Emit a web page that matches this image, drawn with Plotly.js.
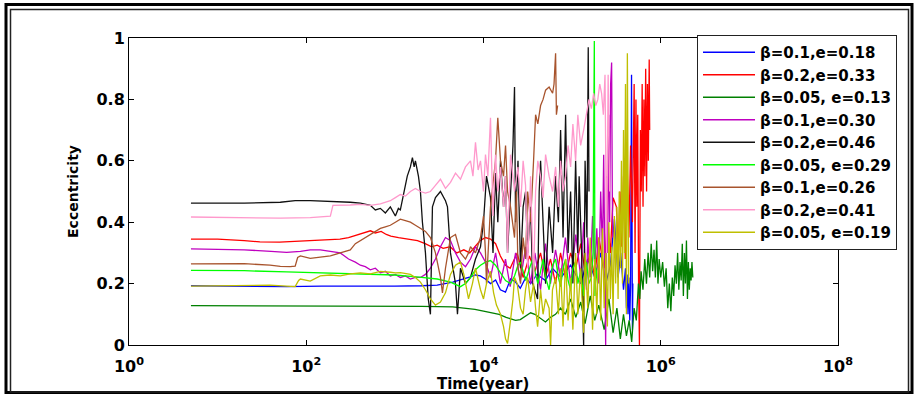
<!DOCTYPE html>
<html>
<head>
<meta charset="utf-8">
<script src="https://cdn.plot.ly/plotly-3.0.1.min.js"></script>
<style>html,body{margin:0;padding:0;background:#fff;}#chart{width:915px;height:394px;}</style>
</head>
<body>
<div id="chart"></div>
<script>
// ---- data (time in years, eccentricity) ----
const seriesNames = ['β=0.1,e=0.18','β=0.2,e=0.33','β=0.05, e=0.13','β=0.1,e=0.30','β=0.2,e=0.46','β=0.05, e=0.29','β=0.1,e=0.26','β=0.2,e=0.41','β=0.05, e=0.19'];
const seriesColors = ['#0000ff','#ff0000','#008000','#bf00bf','#111111','#00ff00','#a8542d','#ff99cc','#bfbf00'];
const xTitle = 'Time(year)';
const yTitle = 'Eccentricity';

const tBlue = [5,20,60,150,400,1000,2000,3000,4500,6000,7100,8100,9200,10500,12000,13700,15500,17700,18700,20200,23000,26000,30000,34000,40000,50000,60000,75000,96000,125000,150000,180000,210000,240000,270000,300000,330000,353000,380000,400000,410000,417000,427000,437000,447000,457000,468000,473000,479000,484000];
const eBlue = [0.193,0.192,0.190,0.192,0.191,0.192,0.193,0.195,0.205,0.215,0.222,0.228,0.225,0.215,0.200,0.212,0.180,0.172,0.190,0.215,0.205,0.185,0.220,0.200,0.230,0.210,0.250,0.220,0.260,0.200,0.280,0.220,0.300,0.200,0.260,0.410,0.220,0.300,0.180,0.250,0.120,0.230,0.100,0.220,0.080,0.200,0.880,0.150,0.050,0.200];

const tRed = [5,10,20,30,50,80,110,180,240,300,400,530,600,700,800,900,1100,1400,1800,2200,2600,3000,3500,4200,5000,6000,7000,8000,9200,10500,12000,13700,15500,17700,20000,24000,28000,33000,38000,44000,50000,57000,65000,74000,84000,96000,110000,125000,140000,160000,180000,200000,230000,250000,270000,290000,316000,331000,347000,363000,380000,398000,417000,437000,457000,479000,501000,513000,525000,537000,550000,562000,575000,589000,603000,617000,631000,646000,661000,676000,692000,708000,724000,741000,750000];
const eRed = [0.345,0.345,0.340,0.336,0.335,0.338,0.340,0.342,0.345,0.350,0.360,0.372,0.365,0.370,0.360,0.355,0.350,0.345,0.340,0.330,0.320,0.325,0.315,0.320,0.300,0.310,0.300,0.320,0.340,0.350,0.345,0.330,0.290,0.260,0.250,0.300,0.220,0.290,0.240,0.300,0.220,0.280,0.200,0.300,0.220,0.300,0.250,0.330,0.240,0.300,0.220,0.350,0.250,0.400,0.300,0.480,0.450,0.300,0.500,0.320,0.550,0.280,0.600,0.350,0.650,0.400,0.850,0.300,0.800,0.450,0.750,0.200,0.000,0.700,0.500,0.850,0.450,0.800,0.550,0.900,0.500,0.850,0.600,0.930,0.700];

const tGreen = [5,50,200,500,1000,2000,3000,4500,6000,8000,10000,12000,15000,18000,20000,23000,26000,30000,34000,38000,44000,50000,57000,65000,74000,84000,96000,110000,125000,140000,160000,180000,200000,230000,260000,290000,320000,350000,380000,410000,440000,470000,500000,530000,560000,580000,600000,630000,660000,690000,720000,750000,780000,810000,840000,870000,900000,930000,960000,1000000,1050000,1100000,1150000,1200000,1250000,1300000,1350000,1400000,1450000,1500000,1550000,1600000,1650000,1700000,1750000,1800000,1850000,1900000,1950000,2000000,2050000,2100000,2150000,2200000,2250000,2300000];
const eGreen = [0.128,0.128,0.127,0.128,0.127,0.126,0.125,0.124,0.120,0.116,0.110,0.105,0.100,0.090,0.085,0.080,0.083,0.095,0.105,0.100,0.085,0.075,0.090,0.100,0.120,0.100,0.150,0.090,0.140,0.070,0.160,0.080,0.130,0.050,0.150,0.040,0.120,0.020,0.100,0.030,0.080,0.010,0.120,0.080,0.200,0.150,0.240,0.180,0.280,0.200,0.300,0.220,0.330,0.240,0.310,0.220,0.340,0.200,0.280,0.220,0.270,0.190,0.250,0.120,0.200,0.110,0.220,0.160,0.260,0.200,0.300,0.180,0.270,0.210,0.330,0.160,0.300,0.200,0.340,0.150,0.270,0.180,0.250,0.210,0.270,0.220];

const tMag = [5,20,40,60,86,111,144,187,242,270,300,358,408,464,529,602,686,781,889,1013,1153,1314,1497,1705,1942,2213,2519,2870,3268,3723,4240,4829,5498,6263,7132,8122,9248,10530,12000,13700,15500,17700,20000,23000,26000,30000,34000,38000,44000,50000,57000,65000,74000,84000,96000,110000,125000,135000,145000,150000,160000,170000,180000,190000,200000,210000,220000,227000,233000,239000,245000,252000,258000,265000,272000,279000,284000,287000];
const eMag = [0.313,0.310,0.305,0.302,0.305,0.310,0.310,0.305,0.300,0.290,0.280,0.270,0.260,0.255,0.245,0.250,0.235,0.240,0.225,0.230,0.220,0.225,0.215,0.220,0.220,0.230,0.250,0.280,0.320,0.350,0.340,0.300,0.270,0.255,0.280,0.320,0.300,0.270,0.220,0.300,0.200,0.280,0.190,0.300,0.210,0.320,0.200,0.300,0.180,0.330,0.200,0.310,0.220,0.350,0.200,0.360,0.220,0.400,0.180,0.350,0.220,0.420,0.250,0.380,0.200,0.500,0.300,0.620,0.350,0.000,0.550,0.300,0.750,0.400,0.850,0.920,0.500,0.350];

const tBlack = [5,20,51,75,111,187,314,408,529,602,686,781,889,1013,1096,1153,1279,1380,1497,1577,1650,1705,1844,1942,2046,2213,2380,2519,2654,2870,3268,3723,3922,4240,4829,5085,5498,6263,7132,8122,9248,10000,10810,11990,12800,13660,14500,15550,16830,17730,18680,20180,21500,22390,23000,24500,26180,28000,29820,31500,33950,36000,40780,42500,44070,47000,50190,55000,60230,65090,70000,74120,79000,84410,90000,96130,102000,109500,116000,120000,128000,134800,140000,147000,152000,155000];
const eBlack = [0.462,0.462,0.465,0.470,0.470,0.468,0.465,0.462,0.455,0.440,0.445,0.430,0.450,0.420,0.445,0.440,0.500,0.550,0.580,0.610,0.580,0.600,0.550,0.500,0.400,0.300,0.150,0.100,0.450,0.480,0.500,0.470,0.450,0.300,0.200,0.100,0.250,0.200,0.220,0.280,0.320,0.400,0.550,0.480,0.300,0.560,0.400,0.600,0.450,0.550,0.300,0.500,0.650,0.840,0.400,0.600,0.250,0.450,0.500,0.300,0.450,0.200,0.150,0.500,0.600,0.400,0.200,0.450,0.300,0.550,0.400,0.700,0.350,0.750,0.300,0.500,0.200,0.600,0.300,0.550,0.300,0.000,0.600,0.350,0.970,0.500];

const tLime = [5,20,60,150,400,1000,2000,3000,4240,5498,6263,7132,8122,9248,10530,11990,13660,15550,17730,20180,22390,24500,26180,28000,30000,33950,36000,38700,41000,44070,47000,50190,55000,60230,65090,70000,74120,79000,84410,90000,96130,102000,109500,116000,124700,134800,145000,155000,165000,172000,178000,181000,186000,194000];
const eLime = [0.243,0.242,0.238,0.235,0.232,0.228,0.220,0.215,0.205,0.190,0.200,0.220,0.245,0.260,0.270,0.275,0.260,0.235,0.210,0.200,0.225,0.260,0.270,0.240,0.210,0.260,0.280,0.230,0.200,0.240,0.280,0.220,0.180,0.260,0.280,0.220,0.190,0.250,0.280,0.210,0.180,0.250,0.270,0.200,0.240,0.160,0.270,0.200,0.220,0.300,0.990,0.160,0.250,0.200];

const tBrown = [5,20,39,51,66,75,80,86,111,144,187,242,314,358,408,464,529,602,686,781,889,1013,1153,1314,1497,1705,1942,2213,2519,2870,3268,3442,3723,4027,4240,4829,5498,6263,6775,7132,8122,9248,10000,10530,10810,11990,13660,14500,15550,16830,17730,18680,20180,22390,23500,24500,26180,28000,29820,31500,33950,36720,38700,41000,44070,47000,50190,55000,60230,62500,65090,66500,68600];
const eBrown = [0.264,0.265,0.260,0.256,0.255,0.257,0.285,0.290,0.282,0.285,0.290,0.300,0.310,0.330,0.340,0.350,0.360,0.370,0.380,0.385,0.390,0.400,0.410,0.405,0.400,0.390,0.380,0.370,0.350,0.300,0.220,0.170,0.250,0.320,0.350,0.360,0.300,0.280,0.300,0.320,0.300,0.350,0.420,0.300,0.200,0.450,0.600,0.740,0.600,0.550,0.650,0.500,0.450,0.350,0.500,0.250,0.200,0.350,0.280,0.500,0.400,0.600,0.750,0.720,0.780,0.800,0.830,0.840,0.820,0.850,0.950,0.750,0.780];

const tPink = [5,20,51,111,187,200,242,314,408,529,686,889,1013,1153,1314,1497,1705,1942,2213,2519,2870,3268,3723,4240,4829,5498,6263,7132,7600,8122,8700,9248,10000,10530,11200,11990,12800,13660,14500,15550,16830,17730,18680,20180,22390,24500,26180,28000,29820,31500,33950,36720,38700,41000,44070,47000,50190,55000,60230,65090,70000,74120,79000,84410,90000,96130,102000,109500,116000,124700,134800,145000,155000,165000,175000,185000,195000,205000,215000,225000,235000,245000,255000,265000];
const ePink = [0.417,0.415,0.413,0.415,0.420,0.455,0.455,0.456,0.458,0.455,0.460,0.470,0.480,0.490,0.485,0.500,0.510,0.500,0.495,0.500,0.520,0.540,0.510,0.530,0.560,0.540,0.580,0.600,0.550,0.660,0.570,0.600,0.500,0.620,0.550,0.740,0.420,0.620,0.500,0.580,0.450,0.550,0.300,0.620,0.500,0.580,0.450,0.600,0.520,0.250,0.550,0.200,0.500,0.600,0.550,0.480,0.620,0.550,0.500,0.580,0.450,0.600,0.500,0.550,0.650,0.580,0.720,0.600,0.750,0.650,0.700,0.750,0.800,0.770,0.820,0.780,0.800,0.850,0.820,0.750,0.880,0.300,0.880,0.500];

const tYellow = [5,20,39,60,75,82,86,111,144,187,242,314,408,529,686,889,1013,1153,1314,1497,1705,1942,2213,2519,2870,3268,3723,4240,4829,5498,6000,6775,7500,8122,9248,10000,10810,11990,13000,14000,15550,16830,17730,18680,20180,21500,22390,24000,26180,28000,29820,31500,33950,36720,38700,40780,42500,44070,47000,50190,55000,57150,60000,65090,70000,74120,79000,84410,90000,96130,102000,109500,116000,124700,134800,140000,150000,160000,170000,180000,190000,200000,210000,220000,230000,240000,250000,260000,270000,280000,290000,300000,310000,320000,330000,340000,350000,360000,370000,380000,390000,400000,410000,420000,430000,435000];
const eYellow = [0.192,0.193,0.195,0.192,0.190,0.210,0.215,0.208,0.225,0.228,0.225,0.232,0.235,0.232,0.240,0.237,0.235,0.236,0.232,0.230,0.220,0.205,0.180,0.150,0.130,0.140,0.170,0.230,0.260,0.270,0.230,0.150,0.200,0.250,0.180,0.150,0.200,0.240,0.170,0.130,0.100,0.060,0.020,0.005,0.080,0.150,0.220,0.200,0.120,0.100,0.180,0.220,0.140,0.200,0.120,0.060,0.120,0.180,0.100,0.150,0.120,0.000,0.180,0.220,0.100,0.250,0.060,0.280,0.080,0.220,0.050,0.300,0.100,0.250,0.040,0.300,0.120,0.350,0.050,0.280,0.100,0.350,0.080,0.380,0.120,0.300,0.060,0.400,0.150,0.320,0.100,0.420,0.200,0.450,0.150,0.500,0.250,0.600,0.200,0.700,0.300,0.850,0.100,0.950,0.400,0.200];

// axis tick labels
const xTickVals = [1,100,1e4,1e6,1e8];
const xTickText = ['10<sup>0</sup>','10<sup>2</sup>','10<sup>4</sup>','10<sup>6</sup>','10<sup>8</sup>'];
const yTickVals = [0,0.2,0.4,0.6,0.8,1];
const yTickText = ['0','0.2','0.4','0.6','0.8','1'];

const xs = [tBlue,tRed,tGreen,tMag,tBlack,tLime,tBrown,tPink,tYellow];
const ys = [eBlue,eRed,eGreen,eMag,eBlack,eLime,eBrown,ePink,eYellow];

const traces = xs.map((x,i)=>({
  x: x, y: ys[i], type:'scatter', mode:'lines', name: seriesNames[i],
  line:{color: seriesColors[i], width:1.3}
}));

// pixel helpers for decoration positions
const L=129, R=838, T=38, B=345;
const px = v => (v-L)/(R-L);
const py = v => (B-v)/(B-T);
const FAM = 'DejaVu Sans, Arial, sans-serif';
const fnt = {family:FAM, size:16, color:'#000', weight:'bold'};

const layout = {
  width:915, height:394,
  margin:{l:L, r:915-R, t:T, b:394-B, pad:0},
  paper_bgcolor:'#fff', plot_bgcolor:'#fff',
  showlegend:true,
  xaxis:{type:'log', range:[0,8], tickmode:'array', tickvals:xTickVals, ticktext:xTickText,
    ticks:'inside', ticklen:5, tickcolor:'#000', showline:true, linecolor:'#000', linewidth:1,
    mirror:'ticks', showgrid:false, zeroline:false, tickfont:fnt, ticklabelstandoff:7},
  yaxis:{range:[0,1], tickmode:'array', tickvals:yTickVals, ticktext:yTickText,
    ticks:'inside', ticklen:5, tickcolor:'#000', showline:true, linecolor:'#000', linewidth:1,
    mirror:'ticks', showgrid:false, zeroline:false, tickfont:fnt,
    title:{text:yTitle, font:{family:FAM, size:14, color:'#000', weight:'bold'}, standoff:14}},
  legend:{x:px(697), y:py(35), xanchor:'left', yanchor:'top', bgcolor:'#fff',
    bordercolor:'#222', borderwidth:1, itemwidth:52, maxheight:400, tracegroupgap:0,
    font:{family:FAM, size:15, color:'#000', weight:'bold'}},
  annotations:[
    {text:xTitle, xref:'paper', yref:'paper', x:px(483), y:py(383.5), xanchor:'center', yanchor:'middle',
     showarrow:false, font:{family:FAM, size:15, color:'#000', weight:'bold'}}
  ],
  shapes:[
    {type:'rect', xref:'paper', yref:'paper', x0:px(6), x1:px(912), y0:py(4.5), y1:py(392.5), line:{color:'#000', width:3}},
    {type:'rect', xref:'paper', yref:'paper', x0:px(10.5), x1:px(908.5), y0:py(9.5), y1:py(392), line:{color:'#222', width:1.5}}
  ]
};

Plotly.newPlot('chart', traces, layout, {staticPlot:true, displayModeBar:false});
</script>
</body>
</html>
